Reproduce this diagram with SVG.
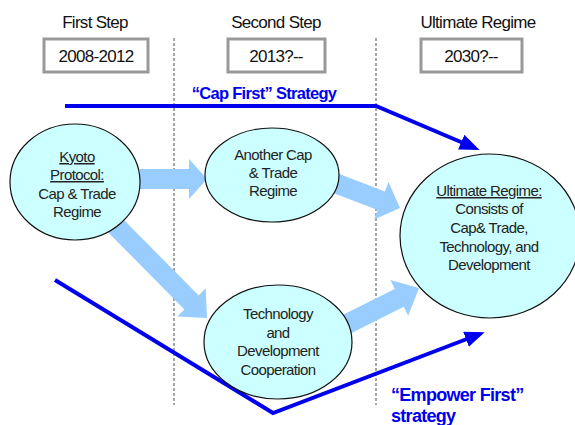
<svg xmlns="http://www.w3.org/2000/svg" width="575" height="425" viewBox="0 0 575 425">
<style>
.hdr{font-family:"Liberation Sans",Arial,sans-serif;font-size:17px;fill:#111;text-anchor:middle;letter-spacing:-0.7px}
.box{fill:#fff;stroke:#999;stroke-width:3}
.node{fill:#ccffff;stroke:#111;stroke-width:1.2}
.lbl{font-family:"Liberation Sans",Arial,sans-serif;font-size:15px;fill:#222;text-anchor:middle;letter-spacing:-0.6px}
.u{text-decoration:underline}
.div{stroke:#777;stroke-width:1.3;stroke-dasharray:3,2}
.blk{fill:#99ccff}
.strat{fill:none;stroke:#0000ee;stroke-width:4}
.st{font-family:"Liberation Sans",Arial,sans-serif;font-weight:bold;fill:#0000ee;letter-spacing:-0.7px}
</style>
<defs>
<marker id="ah" markerUnits="userSpaceOnUse" markerWidth="20" markerHeight="16" viewBox="0 0 20 16" refX="15" refY="8" orient="auto">
<path d="M0,0 L20,8 L0,16 z" fill="#0000ee"/>
</marker>
</defs>
<g id="headers">
<text class="hdr" x="95" y="28">First Step</text>
<text class="hdr" x="276" y="28">Second Step</text>
<text class="hdr" x="478" y="28">Ultimate Regime</text>
<rect class="box" x="44" y="39" width="104" height="33"/>
<text class="hdr" x="96" y="62">2008-2012</text>
<rect class="box" x="228" y="39" width="97" height="33"/>
<text class="hdr" x="276" y="62">2013?--</text>
<rect class="box" x="421" y="39" width="101" height="33"/>
<text class="hdr" x="471" y="62">2030?--</text>
</g>
<g id="dividers">
<line class="div" x1="174" y1="38" x2="174" y2="405"/>
<line class="div" x1="376" y1="38" x2="376" y2="405"/>
</g>
<g id="connectors">
<polygon class="blk" points="140,169 189,169 189,159 207,179 189,199 189,189 140,189"/>
<polygon class="blk" points="112.1,208 198.6,295.4 205.7,288.3 207,318 177.3,316.5 184.4,309.4 97.9,222"/>
<polygon class="blk" points="331.7,171.1 384.9,191.5 388.5,182.1 400,208 374.1,219.5 377.7,210.1 324.5,189.7"/>
<polygon class="blk" points="338.5,317.1 394.8,288.9 390.4,279.9 419,288 408.2,315.7 403.8,306.7 347.5,334.9"/>
<polyline class="strat" points="65,106 376,106 475,148" marker-end="url(#ah)"/>
<polyline class="strat" points="55,280 273,413 480,334" marker-end="url(#ah)"/>
</g>
<g id="kyoto">
<ellipse class="node" cx="75" cy="182" rx="65" ry="58"/>
<text class="lbl u" x="77" y="162">Kyoto</text>
<text class="lbl u" x="77" y="180">Protocol:</text>
<text class="lbl" x="77" y="199">Cap &amp; Trade</text>
<text class="lbl" x="77" y="217">Regime</text>
</g>
<g id="another">
<ellipse class="node" cx="272" cy="175" rx="67" ry="47"/>
<text class="lbl" x="273" y="160">Another Cap</text>
<text class="lbl" x="273" y="178">&amp; Trade</text>
<text class="lbl" x="273" y="196">Regime</text>
</g>
<g id="ultimate">
<ellipse class="node" cx="490" cy="236" rx="90" ry="82"/>
<text class="lbl u" x="489" y="196">Ultimate Regime:</text>
<text class="lbl" x="489" y="214">Consists of</text>
<text class="lbl" x="489" y="233">Cap&amp; Trade,</text>
<text class="lbl" x="489" y="252">Technology, and</text>
<text class="lbl" x="489" y="270">Development</text>
</g>
<g id="technology">
<ellipse class="node" cx="278" cy="342" rx="74" ry="57"/>
<text class="lbl" x="278" y="319">Technology</text>
<text class="lbl" x="278" y="338">and</text>
<text class="lbl" x="278" y="356">Development</text>
<text class="lbl" x="278" y="375">Cooperation</text>
</g>
<g id="labels">
<text class="st" x="264" y="99" font-size="16.5" text-anchor="middle">“Cap First” Strategy</text>
<text class="st" x="391" y="401" font-size="18">“Empower First”</text>
<text class="st" x="391" y="422" font-size="18">strategy</text>
</g>
</svg>
